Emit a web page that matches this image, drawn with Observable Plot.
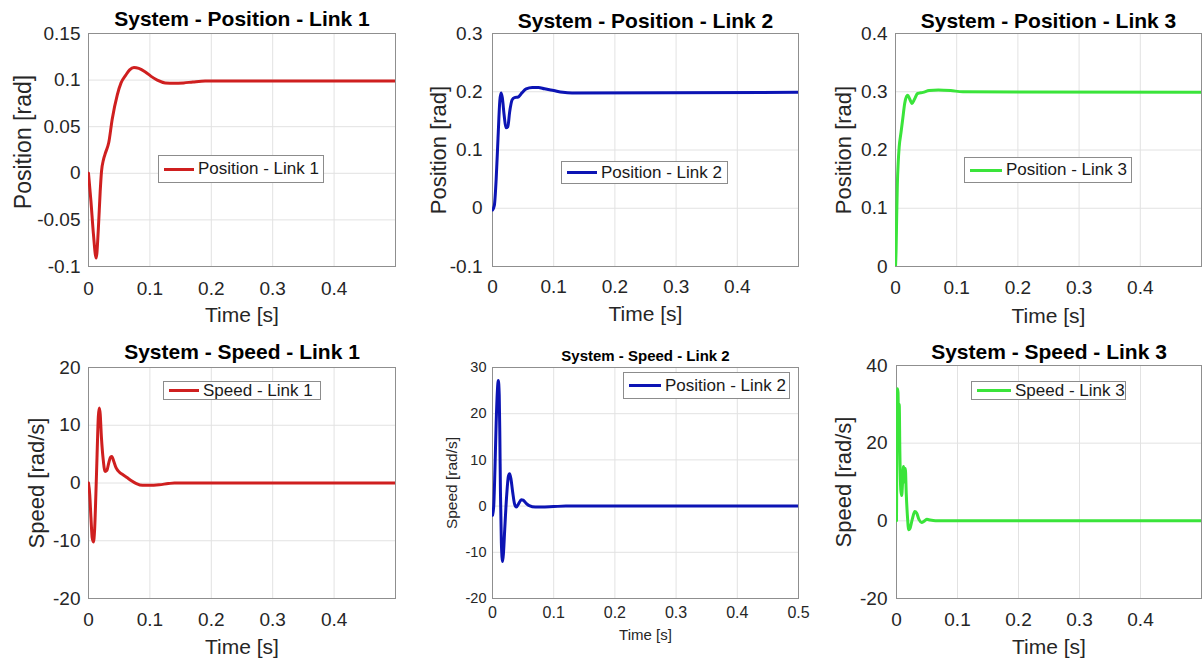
<!DOCTYPE html>
<html><head><meta charset="utf-8">
<script src="https://cdn.jsdelivr.net/npm/d3@7"></script>
<script src="https://cdn.jsdelivr.net/npm/@observablehq/plot@0.6"></script>
<style>
body{margin:0;background:#fff;font-family:"Liberation Sans",Arial,sans-serif;}
#root{position:relative;width:1203px;height:661px;overflow:hidden;background:#fff;}
.panel{position:absolute;}
.legend{position:absolute;box-sizing:border-box;border:1px solid #8c8c8c;background:#fff;display:flex;align-items:center;color:#1a1a1a;white-space:nowrap;font-family:"Liberation Sans",Arial,sans-serif;}
.legend .swatch{display:inline-block;height:3px;margin-right:4px;}
</style></head><body><div id="root"></div>
<script>
// ---------- data ----------
const timeTicks = [0, 0.1, 0.2, 0.3, 0.4];
const timeTicksFull = [0, 0.1, 0.2, 0.3, 0.4, 0.5];

const posTicks1 = [-0.1, -0.05, 0, 0.05, 0.1, 0.15];
const posTicks2 = [-0.1, 0, 0.1, 0.2, 0.3];
const posTicks3 = [0, 0.1, 0.2, 0.3, 0.4];
const speedTicks1 = [-20, -10, 0, 10, 20];
const speedTicks2 = [-20, -10, 0, 10, 20, 30];
const speedTicks3 = [-20, 0, 20, 40];

const timePos1 = [0, 0.004, 0.008, 0.0125, 0.016, 0.019, 0.0212, 0.0245, 0.0277, 0.033, 0.0386, 0.0468, 0.053, 0.0604, 0.067, 0.074, 0.082, 0.092, 0.102, 0.112, 0.125, 0.14, 0.155, 0.17, 0.19, 0.5];
const pos1 = [0, -0.03, -0.065, -0.091, -0.06, -0.02, 0.002, 0.015, 0.022, 0.033, 0.058, 0.084, 0.097, 0.105, 0.111, 0.1135, 0.1125, 0.109, 0.104, 0.1, 0.097, 0.0965, 0.097, 0.098, 0.099, 0.099];

const timePos2 = [0, 0.003, 0.006, 0.009, 0.012, 0.014, 0.016, 0.019, 0.022, 0.025, 0.028, 0.032, 0.036, 0.042, 0.048, 0.055, 0.065, 0.075, 0.085, 0.1, 0.115, 0.13, 0.5];
const pos2 = [-0.003, 0.005, 0.05, 0.12, 0.185, 0.198, 0.19, 0.16, 0.138, 0.14, 0.165, 0.186, 0.19, 0.191, 0.198, 0.205, 0.2075, 0.2075, 0.205, 0.202, 0.199, 0.198, 0.199];

const timePos3 = [0, 0.001, 0.002, 0.003, 0.0045, 0.006, 0.009, 0.012, 0.015, 0.018, 0.02, 0.023, 0.027, 0.031, 0.036, 0.045, 0.055, 0.07, 0.09, 0.11, 0.5];
const pos3 = [0, 0.03, 0.09, 0.14, 0.18, 0.205, 0.23, 0.255, 0.28, 0.292, 0.294, 0.288, 0.28, 0.287, 0.297, 0.299, 0.302, 0.303, 0.302, 0.3, 0.299];

const timeSpd1 = [0, 0.002, 0.004, 0.006, 0.008, 0.01, 0.012, 0.014, 0.016, 0.0175, 0.019, 0.021, 0.024, 0.027, 0.03, 0.033, 0.036, 0.038, 0.041, 0.045, 0.05, 0.055, 0.062, 0.07, 0.078, 0.088, 0.1, 0.115, 0.13, 0.14, 0.5];
const spd1 = [0, -2, -6, -9.5, -10.2, -8, -2, 5, 11.5, 13, 12, 8, 4, 2, 2.2, 3.5, 4.5, 4.6, 3.8, 2.6, 1.9, 1.5, 1.0, 0.4, -0.1, -0.4, -0.4, -0.3, -0.1, 0, 0];

const timeSpd2 = [0, 0.002, 0.004, 0.006, 0.008, 0.0095, 0.011, 0.012, 0.013, 0.0145, 0.0165, 0.018, 0.02, 0.023, 0.026, 0.028, 0.03, 0.033, 0.036, 0.039, 0.043, 0.047, 0.05, 0.055, 0.06, 0.07, 0.08, 0.1, 0.12, 0.5];
const spd2 = [-2, 0, 8, 18, 25, 27.2, 24, 15, 3, -8, -12, -10, -5, 2, 6.5, 7, 6, 3, 0.5, -0.2, 0.6, 1.4, 1.3, 0.6, 0.1, -0.2, -0.2, -0.1, 0, 0];

const timeSpd3 = [0, 0.0005, 0.001, 0.0015, 0.0025, 0.0035, 0.0045, 0.0055, 0.007, 0.0085, 0.01, 0.0115, 0.013, 0.0145, 0.016, 0.018, 0.02, 0.022, 0.026, 0.03, 0.033, 0.037, 0.041, 0.046, 0.05, 0.055, 0.064, 0.5];
const spd3 = [0, 15, 30, 34, 33, 22, 30, 18, 8, 6.5, 10, 14, 10, 13.5, 7, 1, -2.3, -2, 0.5, 2.4, 2, 0.3, -0.4, 0, 0.4, 0.2, 0, 0];

const titles = ["System - Position - Link 1", "System - Position - Link 2", "System - Position - Link 3",
                "System - Speed - Link 1", "System - Speed - Link 2", "System - Speed - Link 3"];
const legendLabels = ["Position - Link 1", "Position - Link 2", "Position - Link 3",
                      "Speed - Link 1", "Position - Link 2", "Speed - Link 3"];
const xLabel = "Time [s]";
const yLabels = ["Position [rad]", "Position [rad]", "Position [rad]", "Speed [rad/s]", "Speed [rad/s]", "Speed [rad/s]"];

// ---------- styles / layout ----------
const FONT = '"Liberation Sans", Arial, sans-serif';
const RED = "#cf1f1f", BLUE = "#0c14b4", GREEN = "#3ae43a";
const fmt = d => String(d);

const panels = [
  {times: timePos1, values: pos1, color: RED, title: titles[0], legend: legendLabels[0], yLabel: yLabels[0],
   yDomain: [-0.1, 0.15], yTicks: posTicks1, xTicks: timeTicks,
   left: 0, top: 0, width: 400, height: 330, ml: 88, mr: 5, mt: 33, mb: 64,
   titleSize: 21, titleDy: -22, tickX: 19, tickY: 19, xPad: 15, yPad: 8, xLabSize: 21, xLabDy: 41, yLabSize: 23, yLabDx: -74, yLabShift: -8,
   lg: {left: 158, top: 155, w: 166, h: 28, font: 17, sw: 30}},
  {times: timePos2, values: pos2, color: BLUE, title: titles[1], legend: legendLabels[1], yLabel: yLabels[1],
   yDomain: [-0.1, 0.3], yTicks: posTicks2, xTicks: timeTicks,
   left: 400, top: 0, width: 400, height: 330, ml: 92, mr: 2, mt: 33, mb: 64,
   titleSize: 21, titleDy: -20, tickX: 19, tickY: 19, xPad: 13, yPad: 10, xLabSize: 21, xLabDy: 40, yLabSize: 22, yLabDx: -62, yLabShift: 0,
   lg: {left: 561, top: 161, w: 167, h: 23, font: 17, sw: 30}},
  {times: timePos3, values: pos3, color: GREEN, title: titles[2], legend: legendLabels[2], yLabel: yLabels[2],
   yDomain: [0, 0.4], yTicks: posTicks3, xTicks: timeTicks,
   left: 800, top: 0, width: 403, height: 330, ml: 95, mr: 2, mt: 33, mb: 64,
   titleSize: 21, titleDy: -20, tickX: 19, tickY: 19, xPad: 14, yPad: 8, xLabSize: 21, xLabDy: 42, yLabSize: 22, yLabDx: -60, yLabShift: 0,
   lg: {left: 964, top: 157, w: 168, h: 26, font: 17, sw: 32}},
  {times: timeSpd1, values: spd1, color: RED, title: titles[3], legend: legendLabels[3], yLabel: yLabels[3],
   yDomain: [-20, 20], yTicks: speedTicks1, xTicks: timeTicks,
   left: 0, top: 330, width: 400, height: 331, ml: 88, mr: 5, mt: 37, mb: 63,
   titleSize: 21, titleDy: -23, tickX: 19, tickY: 19, xPad: 14, yPad: 8, xLabSize: 21, xLabDy: 41, yLabSize: 22, yLabDx: -60, yLabShift: 0,
   lg: {left: 163, top: 381, w: 158, h: 19, font: 17, sw: 30}},
  {times: timeSpd2, values: spd2, color: BLUE, title: titles[4], legend: legendLabels[4], yLabel: yLabels[4],
   yDomain: [-20, 30], yTicks: speedTicks2, xTicks: timeTicksFull,
   left: 400, top: 330, width: 400, height: 331, ml: 92, mr: 2, mt: 37, mb: 63,
   titleSize: 15, titleDy: -17, tickX: 16, tickY: 14.5, xPad: 8, yPad: 6, xLabSize: 15, xLabDy: 31, yLabSize: 15.5, yLabDx: -47, yLabShift: 0,
   lg: {left: 623, top: 372, w: 167, h: 27, font: 17, sw: 32}},
  {times: timeSpd3, values: spd3, color: GREEN, title: titles[5], legend: legendLabels[5], yLabel: yLabels[5],
   yDomain: [-20, 40], yTicks: speedTicks3, xTicks: timeTicks,
   left: 800, top: 330, width: 403, height: 331, ml: 96, mr: 2, mt: 35, mb: 63,
   titleSize: 21, titleDy: -21, tickX: 19, tickY: 19, xPad: 14, yPad: 9, xLabSize: 21, xLabDy: 41, yLabSize: 22, yLabDx: -61, yLabShift: 0,
   lg: {left: 971, top: 381, w: 155, h: 19, font: 17, sw: 34}}
];

const root = document.getElementById("root");

for (const p of panels) {
  const data = p.times.map((t, i) => ({t, v: p.values[i]}));
  const svg = Plot.plot({
    width: p.width, height: p.height,
    marginLeft: p.ml, marginRight: p.mr, marginTop: p.mt, marginBottom: p.mb,
    style: {background: "transparent", fontFamily: FONT, overflow: "visible"},
    x: {domain: [0, 0.5]},
    y: {domain: p.yDomain},
    marks: [
      Plot.gridX(p.xTicks, {stroke: "#e2e2e2", strokeOpacity: 1}),
      Plot.gridY(p.yTicks, {stroke: "#e2e2e2", strokeOpacity: 1}),
      Plot.frame({stroke: "#8f8f8f"}),
      Plot.line(data, {x: "t", y: "v", stroke: p.color, strokeWidth: 3, curve: "monotone-x", clip: true}),
      Plot.axisX(p.xTicks, {tickSize: 0, tickPadding: p.xPad, fontSize: p.tickX, tickFormat: fmt, label: null, color: "#262626"}),
      Plot.axisY(p.yTicks, {tickSize: 0, tickPadding: p.yPad, fontSize: p.tickY, tickFormat: fmt, label: null, color: "#262626"}),
      Plot.text([p.title], {text: d => d, frameAnchor: "top", lineAnchor: "top", dy: p.titleDy, fontSize: p.titleSize, fontWeight: "bold", fill: "#000"}),
      Plot.text([xLabel], {text: d => d, frameAnchor: "bottom", lineAnchor: "top", dy: p.xLabDy, fontSize: p.xLabSize, fill: "#262626"}),
      Plot.text([p.yLabel], {text: d => d, frameAnchor: "left", textAnchor: "middle", lineAnchor: "top", rotate: -90, dx: p.yLabDx, dy: p.yLabShift, fontSize: p.yLabSize, fill: "#262626"})
    ]
  });
  const wrap = document.createElement("div");
  wrap.className = "panel";
  wrap.style.left = p.left + "px";
  wrap.style.top = p.top + "px";
  wrap.appendChild(svg);
  root.appendChild(wrap);

  const lg = document.createElement("div");
  lg.className = "legend";
  lg.style.left = p.lg.left + "px";
  lg.style.top = p.lg.top + "px";
  lg.style.width = p.lg.w + "px";
  lg.style.height = p.lg.h + "px";
  lg.style.fontSize = p.lg.font + "px";
  lg.style.paddingLeft = "5px";
  const sw = document.createElement("span");
  sw.className = "swatch";
  sw.style.width = p.lg.sw + "px";
  sw.style.background = p.color;
  const tx = document.createElement("span");
  tx.textContent = p.legend;
  lg.appendChild(sw);
  lg.appendChild(tx);
  root.appendChild(lg);
}
</script>
</body></html>
